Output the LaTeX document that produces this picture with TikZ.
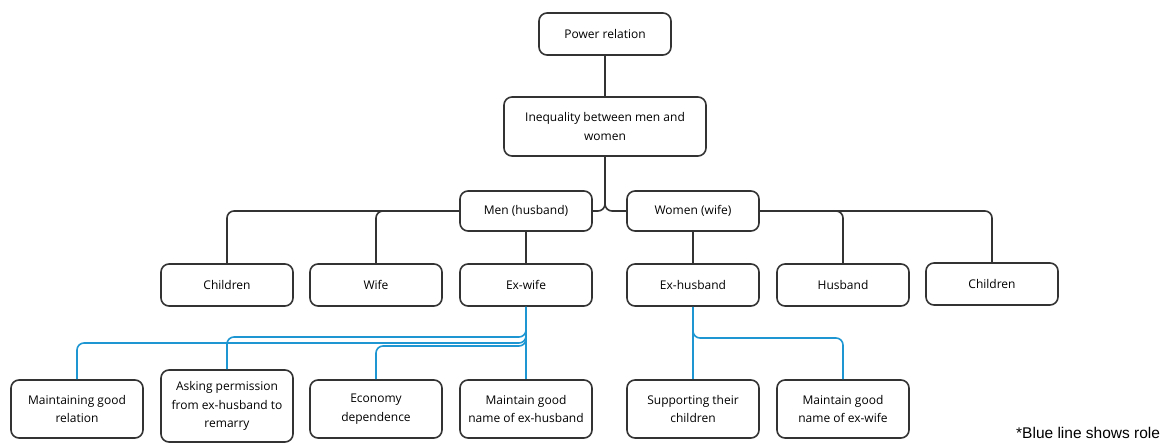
\documentclass[tikz,border=0pt]{standalone}
\usepackage{fontspec}
\setmainfont{Open Sans}
\newfontfamily\notefont{Liberation Sans}
\definecolor{boxline}{HTML}{333333}
\definecolor{roleblue}{HTML}{1E96D2}
\begin{document}
\begin{tikzpicture}[x=1pt,y=-1pt,
  box/.style={draw=boxline,line width=1.6pt,rounded corners=8pt,minimum width=132pt,minimum height=42pt,align=center,inner sep=2pt,font=\fontsize{12}{18.5}\selectfont},
  tallbox/.style={box,minimum height=58pt},
  conn/.style={draw=boxline,line width=1.6pt,rounded corners=7pt},
  bconn/.style={draw=roleblue,line width=1.6pt,rounded corners=7pt}]
\useasboundingbox (0,0) rectangle (1170,443);
% top levels
\node[box] (power) at (605,34) {Power relation};
\node[box,minimum width=202pt,minimum height=59pt] (ineq) at (605,126.5) {Inequality between men and\\women};
\node[box,minimum height=40pt] (men) at (526,211) {Men (husband)};
\node[box,minimum height=40pt] (women) at (693,211) {Women (wife)};
% row 2
\node[box] (childm) at (227,285) {Children};
\node[box] (wife) at (376,285) {Wife};
\node[box] (exwife) at (526,285) {Ex-wife};
\node[box] (exhus) at (693,285) {Ex-husband};
\node[box] (husband) at (843,285) {Husband};
\node[box] (childw) at (992,284) {Children};
% row 3
\node[tallbox] (goodrel) at (77,409) {Maintaining good\\relation};
\node[box,minimum height=72pt] (asking) at (227,406) {Asking permission\\from ex-husband to\\remarry};
\node[tallbox] (econ) at (376,409) {Economy\\dependence};
\node[tallbox] (namehus) at (526,409) {Maintain good\\name of ex-husband};
\node[tallbox] (support) at (693,409) {Supporting their\\children};
\node[tallbox] (namewife) at (843,409) {Maintain good\\name of ex-wife};
% note
\node[anchor=west,inner sep=0pt,font=\notefont\fontsize{15.5}{17}\selectfont] (note) at (1016,433) {*Blue line shows role};
% black connectors
\draw[conn] (power) -- (ineq);
\draw[conn] (ineq.south) -- (605,211) -- (men.east);
\draw[conn] (ineq.south) -- (605,211) -- (women.west);
\draw[conn] (men.west) -| (wife.north);
\draw[conn] (men.west) -| (childm.north);
\draw[conn] (men) -- (exwife);
\draw[conn] (women) -- (exhus);
\draw[conn] (women.east) -| (husband.north);
\draw[conn] (women.east) -| (childw.north);
% blue connectors
\draw[bconn] (exwife.south) -- (namehus.north);
\draw[bconn] (exwife.south) |- (300,337) -| (asking.north);
\draw[bconn] (exwife.south) |- (150,343) -| (goodrel.north);
\draw[bconn] (exwife.south) |- (450,346) -| (econ.north);
\draw[bconn] (exhus.south) -- (support.north);
\draw[bconn] (exhus.south) |- (760,338) -| (namewife.north);
\end{tikzpicture}
\end{document}
